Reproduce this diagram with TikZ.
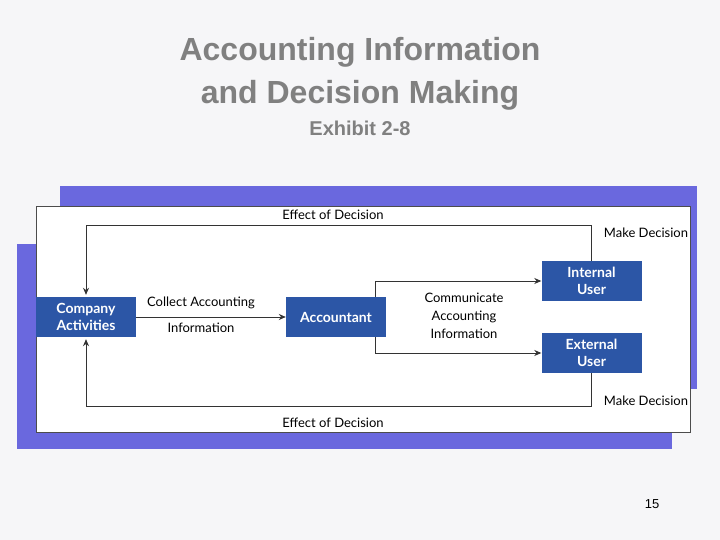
\documentclass[tikz,border=0pt]{standalone}
\usepackage{fontspec}
\setmainfont{Liberation Sans}
\newfontfamily\labelfont{Lato}
\usepackage{xcolor}
\usetikzlibrary{arrows.meta, positioning, calc}
\definecolor{slidebg}{HTML}{F6F6F8}
\definecolor{frameblue}{HTML}{6A68DE}
\definecolor{boxblue}{HTML}{2C56A6}
\definecolor{titlegray}{HTML}{808080}

\begin{document}
\begin{tikzpicture}[x=1pt, y=-1pt,
    unit/.style={draw=none, fill=boxblue, text=white, minimum width=100pt, minimum height=40pt,
                 font=\labelfont\bfseries\fontsize{14}{17}\selectfont, align=center, inner sep=0pt},
    lbl/.style={font=\labelfont\fontsize{13}{15}\selectfont, align=center, inner sep=1pt},
    flow/.style={-{Stealth[length=7pt, width=6pt]}, line width=0.8pt, black!80},
]
\useasboundingbox (0,0) rectangle (720,540);
\fill[slidebg] (0,0) rectangle (720,540);

% --- Title ---
\node[font=\bfseries\fontsize{32}{34}\selectfont, text=titlegray] (title1) at (360,52) {Accounting Information};
\node[font=\bfseries\fontsize{32}{34}\selectfont, text=titlegray] (title2) at (360,95) {and Decision Making};
\node[font=\bfseries\fontsize{20}{22}\selectfont, text=titlegray] (exhibit) at (360,128) {Exhibit 2-8};
\node[font=\rmfamily\fontsize{13}{15}\selectfont] (page) at (652,504) {15};

% --- Frames ---
\fill[frameblue] (60,186) rectangle (697,389);
\fill[frameblue] (17,244) rectangle (672,449);
\fill[white, draw=black!70, line width=0.5pt] (36,206) rectangle (690,432);

% --- Nodes ---
\node[unit] (company) at (86,317) {Company\\Activities};
\node[unit] (acct) at (336,317) {Accountant};
\node[unit] (internal) at (591.5,281) {Internal\\User};
\node[unit] (external) at (591.5,353) {External\\User};

\coordinate (split) at (375,317);

% ===================== EDGES =====================

% Company -> Accountant
\draw[flow] (company.east) -- (acct.west);
\node[lbl] (collect1) at (201,303) {Collect Accounting};
\node[lbl] (collect2) at (201,328) {Information};

% Accountant -> users
\draw[flow] (acct.north -| split) |- (internal.west);
\draw[flow] (acct.south -| split) |- (external.west);
\node[lbl, font=\labelfont\fontsize{13}{18}\selectfont] (comm) at (464,316) {Communicate\\Accounting\\Information};

% Users -> Company (decision loops)
\draw[flow] (internal.north) -- ++(0,-35) -| ($(company.north)+(0,-2)$);
\draw[flow] (external.south) -- ++(0,33) -| ($(company.south)+(0,2)$);

\node[lbl] (eff1) at (333,215) {Effect of Decision};
\node[lbl] (eff2) at (333,423) {Effect of Decision};
\node[lbl] (make1) at (646,233) {Make Decision};
\node[lbl] (make2) at (646,401) {Make Decision};

\end{tikzpicture}
\end{document}
